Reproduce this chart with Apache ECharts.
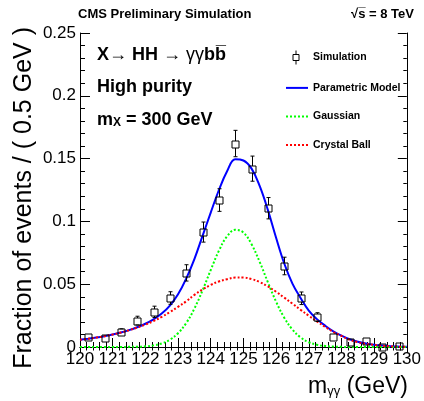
<!DOCTYPE html>
<html>
<head>
<meta charset="utf-8">
<script src="https://cdn.jsdelivr.net/npm/echarts@6/dist/echarts.min.js"></script>
<style>
html, body { margin: 0; padding: 0; background: #fff; }
#chartId { width: 424px; height: 401px; }
</style>
</head>
<body>
<div id="chartId"></div>
<script>
// simulated sample, 0.5 GeV bins (centres), fraction of events and stat. error
var binCenters = [120.25, 120.75, 121.25, 121.75, 122.25, 122.75, 123.25, 123.75, 124.25, 124.75,
  125.25, 125.75, 126.25, 126.75, 127.25, 127.75, 128.25, 128.75, 129.25, 129.75]
var simValues = [0.008, 0.0075, 0.012, 0.021, 0.028, 0.039, 0.059, 0.0915, 0.117, 0.162,
  0.142, 0.1105, 0.0645, 0.0388, 0.0238, 0.0082, 0.0042, 0.005, 0.0002, 0.0004]
var simErrors = [0.002, 0.002, 0.0025, 0.0035, 0.0045, 0.005, 0.0065, 0.008, 0.009, 0.0105,
  0.01, 0.0085, 0.007, 0.005, 0.0035, 0.002, 0.0015, 0.0015, 0.0005, 0.0005]

// fitted curves every 0.25 GeV
var curveMass = [120, 120.25, 120.5, 120.75, 121, 121.25, 121.5, 121.75, 122, 122.25,
  122.5, 122.75, 123, 123.25, 123.5, 123.75, 124, 124.25, 124.5, 124.75,
  125, 125.25, 125.5, 125.75, 126, 126.25, 126.5, 126.75, 127, 127.25,
  127.5, 127.75, 128, 128.25, 128.5, 128.75, 129, 129.25, 129.5, 129.75, 130]
var modelValues = [0.0058, 0.0066, 0.0075, 0.0086, 0.0099, 0.0115, 0.0134, 0.0157, 0.0185, 0.022,
  0.0266, 0.033, 0.042, 0.0545, 0.07, 0.0885, 0.107, 0.125, 0.14, 0.1495,
  0.1485, 0.142, 0.128, 0.109, 0.087, 0.0665, 0.0505, 0.039, 0.029, 0.0222,
  0.017, 0.0125, 0.009, 0.0062, 0.0042, 0.0028, 0.0018, 0.0011, 0.0006, 0.0003, 0.0001]
var gaussValues = [0, 0, 0, 0, 0, 0, 0.0001, 0.0002, 0.0005, 0.0013,
  0.0028, 0.0058, 0.011, 0.0191, 0.0306, 0.0451, 0.0613, 0.0766, 0.0881, 0.0933,
  0.0911, 0.0818, 0.0676, 0.0515, 0.0361, 0.0233, 0.0139, 0.0076, 0.0038, 0.0018,
  0.0008, 0.0003, 0.0001, 0, 0, 0, 0, 0, 0, 0, 0]
var cbValues = [0.0058, 0.0066, 0.0075, 0.0086, 0.0099, 0.0115, 0.0133, 0.0155, 0.0179, 0.0207,
  0.024, 0.0278, 0.032, 0.0364, 0.0415, 0.0458, 0.0494, 0.0522, 0.054, 0.0553,
  0.0553, 0.0541, 0.0517, 0.0482, 0.044, 0.0393, 0.0345, 0.0296, 0.0249, 0.0204,
  0.016, 0.012, 0.0088, 0.0058, 0.0038, 0.0025, 0.0016, 0.001, 0.0006, 0.0003, 0.0001]

var FONT = '"Liberation Sans", Arial, Helvetica, sans-serif'

function pairs(xs, ys) {
  var out = []
  for (var i = 0; i < xs.length; i++) out.push([xs[i], ys[i]])
  return out
}

var simData = []
for (var i = 0; i < binCenters.length; i++) {
  simData.push([binCenters[i], simValues[i], simErrors[i]])
}

// open square + error bar, like the ROOT marker
function renderSim(params, api) {
  var x = api.value(0)
  var y = api.value(1)
  var e = api.value(2)
  var c = api.coord([x, y])
  var top = api.coord([x, y + e])[1]
  var bot = api.coord([x, Math.max(y - e, 0)])[1]
  var h = 3.5
  var cx = Math.round(c[0]) + 0.5
  var cy = Math.round(c[1]) + 0.5
  var st = { stroke: '#000', lineWidth: 1, fill: null }
  var kids = [{
    type: 'rect',
    shape: { x: cx - h, y: cy - h, width: 2 * h, height: 2 * h },
    style: { stroke: '#000', lineWidth: 1, fill: 'rgba(0,0,0,0)' }
  }]
  if (top < cy - h) {
    kids.push({ type: 'line', shape: { x1: cx, y1: cy - h, x2: cx, y2: top }, style: st })
    kids.push({ type: 'line', shape: { x1: cx - 2, y1: top, x2: cx + 2, y2: top }, style: st })
  }
  if (bot > cy + h) {
    kids.push({ type: 'line', shape: { x1: cx, y1: cy + h, x2: cx, y2: bot }, style: st })
    kids.push({ type: 'line', shape: { x1: cx - 2, y1: bot, x2: cx + 2, y2: bot }, style: st })
  }
  return { type: 'group', children: kids }
}

var chart = echarts.init(document.getElementById('chartId'))

var axisCommon = {
  type: 'value',
  axisLine: { show: true, lineStyle: { color: '#000', width: 1 } },
  splitLine: { show: false }
}

// legend entries for the curves: line only, no symbol
var noSymbol = { opacity: 0 }

var option = {
  animation: false,
  backgroundColor: '#fff',
  grid: { left: 80, right: 16, top: 33, bottom: 54 },
  xAxis: [
    Object.assign({}, axisCommon, {
      min: 120, max: 130, interval: 1,
      axisTick: { inside: true, length: 9, lineStyle: { color: '#000' } },
      minorTick: { show: true, splitNumber: 5, length: 5, lineStyle: { color: '#000' } },
      axisLabel: { fontSize: 17, color: '#000', fontFamily: FONT, margin: 4 }
    }),
    Object.assign({}, axisCommon, {
      position: 'top', min: 120, max: 130, interval: 1,
      axisTick: { inside: true, length: 6, lineStyle: { color: '#000' } },
      minorTick: { show: true, splitNumber: 5, length: 3.5, lineStyle: { color: '#000' } },
      axisLabel: { show: false }
    })
  ],
  yAxis: [
    Object.assign({}, axisCommon, {
      min: 0, max: 0.25, interval: 0.05,
      axisTick: { inside: true, length: 10, lineStyle: { color: '#000' } },
      minorTick: { show: true, splitNumber: 5, length: 5, lineStyle: { color: '#000' } },
      axisLabel: { fontSize: 17, color: '#000', fontFamily: FONT, margin: 4 }
    }),
    Object.assign({}, axisCommon, {
      position: 'right', min: 0, max: 0.25, interval: 0.05,
      axisTick: { inside: true, length: 9, lineStyle: { color: '#000' } },
      minorTick: { show: true, splitNumber: 5, length: 3.5, lineStyle: { color: '#000' } },
      axisLabel: { show: false }
    })
  ],
  legend: {
    orient: 'vertical',
    left: 280,
    top: 45,
    itemWidth: 22,
    itemHeight: 14,
    itemGap: 17.3,
    selectedMode: false,
    textStyle: { fontSize: 10.5, fontWeight: 'bold', color: '#000', fontFamily: FONT },
    data: [
      {
        name: 'Simulation',
        icon: 'path://M0,0 M10,0 L10,4 M7,4 L13,4 L13,10 L7,10 Z M10,10 L10,14 M22,14',
        itemStyle: { color: 'rgba(0,0,0,0)', borderColor: '#000', borderWidth: 1 }
      },
      { name: 'Parametric Model', itemStyle: noSymbol },
      { name: 'Gaussian', itemStyle: noSymbol },
      { name: 'Crystal Ball', itemStyle: noSymbol }
    ]
  },
  graphic: [
    {
      type: 'text', x: 78, y: 14,
      style: { text: 'CMS Preliminary Simulation', font: 'bold 13px ' + FONT, fill: '#000', align: 'left', verticalAlign: 'middle' }
    },
    {
      type: 'text', x: 414, y: 14,
      style: { text: '\u221As\u0305 = 8 TeV', font: 'bold 13px ' + FONT, fill: '#000', align: 'right', verticalAlign: 'middle' }
    },
    {
      type: 'text', x: 97, y: 55,
      style: {
        text: '{b|X}{n|\u2192 }{b|HH}{n| \u2192 \u03B3\u03B3}{b|bb\u0305}',
        fill: '#000', align: 'left', verticalAlign: 'middle',
        rich: {
          b: { fontSize: 18, fontWeight: 'bold', fontFamily: FONT },
          n: { fontSize: 18, fontFamily: FONT }
        }
      }
    },
    {
      type: 'text', x: 97, y: 87,
      style: { text: 'High purity', font: 'bold 18px ' + FONT, fill: '#000', align: 'left', verticalAlign: 'middle' }
    },
    {
      type: 'text', x: 97, y: 119,
      style: {
        text: '{b|m}{s|X}{b| = 300 GeV}',
        fill: '#000', align: 'left', verticalAlign: 'middle',
        rich: {
          b: { fontSize: 18, fontWeight: 'bold', fontFamily: FONT, lineHeight: 20, verticalAlign: 'bottom' },
          s: { fontSize: 12, fontWeight: 'bold', fontFamily: FONT, lineHeight: 4, verticalAlign: 'bottom' }
        }
      }
    },
    {
      // y axis title, right aligned to the top of the frame
      type: 'text', x: 24, y: 27, rotation: Math.PI / 2,
      style: { text: 'Fraction of events / ( 0.5 GeV )', font: '25px ' + FONT, fill: '#000', align: 'right', verticalAlign: 'middle' }
    },
    {
      type: 'text', x: 408, y: 386,
      style: {
        text: '{a|m}{s|\u03B3\u03B3}{a| (GeV)}',
        fill: '#000', align: 'right', verticalAlign: 'middle',
        rich: {
          a: { fontSize: 23, fontFamily: FONT, lineHeight: 24, verticalAlign: 'bottom' },
          s: { fontSize: 13, fontFamily: FONT, lineHeight: 8, verticalAlign: 'bottom' }
        }
      }
    }
  ],
  series: [
    {
      name: 'Parametric Model',
      type: 'line',
      symbol: 'none',
      smooth: 0.4,
      color: '#0000ff',
      lineStyle: { color: '#0000ff', width: 2 },
      data: pairs(curveMass, modelValues),
      z: 2
    },
    {
      name: 'Gaussian',
      type: 'line',
      symbol: 'none',
      smooth: 0.4,
      color: '#00ff00',
      lineStyle: { color: '#00ff00', width: 2, type: [2, 2] },
      data: pairs(curveMass, gaussValues),
      z: 3
    },
    {
      name: 'Crystal Ball',
      type: 'line',
      symbol: 'none',
      smooth: 0.4,
      color: '#ff0000',
      lineStyle: { color: '#ff0000', width: 2, type: [2, 2] },
      data: pairs(curveMass, cbValues),
      z: 4
    },
    {
      name: 'Simulation',
      type: 'custom',
      renderItem: renderSim,
      itemStyle: { color: '#000' },
      data: simData,
      clip: false,
      z: 5
    }
  ]
}

chart.setOption(option)
</script>
</body>
</html>
